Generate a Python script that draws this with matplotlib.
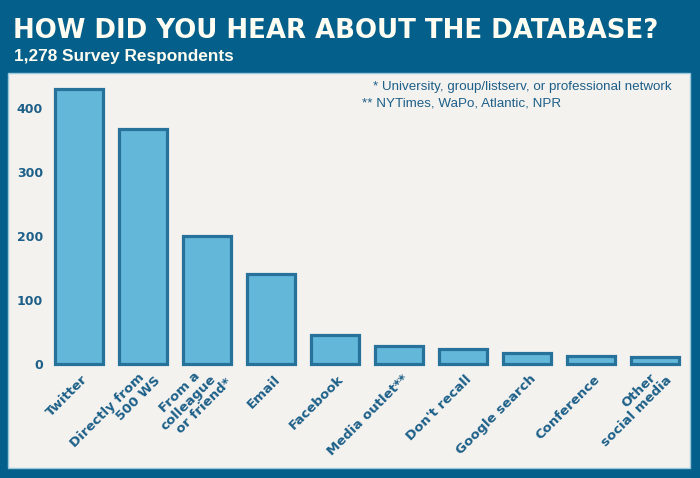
import matplotlib
matplotlib.use("Agg")
import matplotlib.pyplot as plt
from matplotlib.patches import Rectangle
from matplotlib.transforms import ScaledTranslation

categories = ["Twitter", "Directly from\n500 WS", "From a\ncolleague\nor friend*", "Email",
              "Facebook", "Media outlet**", "Don't recall", "Google search", "Conference",
              "Other\nsocial media"]
values = [430, 367, 200, 141, 46, 28, 24, 17, 12, 11]
yticks = [0, 100, 200, 300, 400]

title = "HOW DID YOU HEAR ABOUT THE DATABASE?"
subtitle = "1,278 Survey Respondents"
note1 = "* University, group/listserv, or professional network"
note2 = "** NYTimes, WaPo, Atlantic, NPR"

W, H = 700, 478
frame_c = "#04608a"
panel_c = "#f4f2ef"
text_c = "#1c5f88"
bar_c = "#63b7d8"
edge_c = "#26729a"

fig = plt.figure(figsize=(7, 4.78), dpi=100)
fig.patch.set_facecolor(frame_c)

def fx(px): return px / W
def fy(py): return 1 - py / H

fig.patches.append(Rectangle((fx(8), fy(468)), fx(690) - fx(8), fy(73) - fy(468),
                             transform=fig.transFigure, facecolor=panel_c,
                             edgecolor="#9cc8dd", linewidth=1.0, zorder=-5))

t = fig.text(fx(13), fy(38), title, color="#fffdf2", fontsize=17, fontweight="bold",
             family="DejaVu Sans", va="baseline", ha="left")
r = fig.canvas.get_renderer()
w = t.get_window_extent(r).width
t.set_fontsize(17 * 647 / w)

fig.text(fx(14), fy(61), subtitle, color="#fffdf2", fontsize=12.4, fontweight="bold",
         family="Liberation Sans", va="baseline", ha="left")
fig.text(fx(373), fy(87), note1, color=text_c, fontsize=9.6, family="Liberation Sans",
         va="center", ha="left")
fig.text(fx(362), fy(103), note2, color=text_c, fontsize=9.6, family="Liberation Sans",
         va="center", ha="left")

ax = fig.add_axes([fx(47), fy(364), fx(687) - fx(47), fy(79.2) - fy(364)])
ax.set_zorder(2)
ax.set_facecolor("none")
x = list(range(len(values)))
ax.bar(x, values, width=0.74, color=bar_c, edgecolor=edge_c, linewidth=2.3, clip_on=False)
ax.set_xlim(-0.5, 9.5)
ax.set_ylim(0, 445)
for s in ax.spines.values():
    s.set_visible(False)
ax.set_yticks(yticks)
ax.set_yticklabels([str(v) for v in yticks], color=text_c, fontsize=9,
                   fontweight="bold", family="DejaVu Sans")
ax.tick_params(axis="y", length=0, pad=3)
ax.set_xticks(x)
ax.set_xticklabels([""] * len(x))
ax.tick_params(axis="x", length=0)

base = ax.get_xaxis_transform()
for i, cat in enumerate(categories):
    lines = cat.split("\n")
    n = len(lines)
    for k, line in enumerate(lines):
        m = k - (n - 1) / 2
        dx = 7 + m * 16
        dy = -(13 + m * 3)
        off = ScaledTranslation(dx / 100, dy / 100, fig.dpi_scale_trans)
        ax.text(i, 0, line, transform=base + off, rotation=45, ha="right", va="center",
                rotation_mode="anchor", color=text_c, fontsize=9.5, fontweight="bold",
                family="DejaVu Sans", clip_on=False)

fig.savefig("out.png", dpi=100, facecolor=fig.get_facecolor())
